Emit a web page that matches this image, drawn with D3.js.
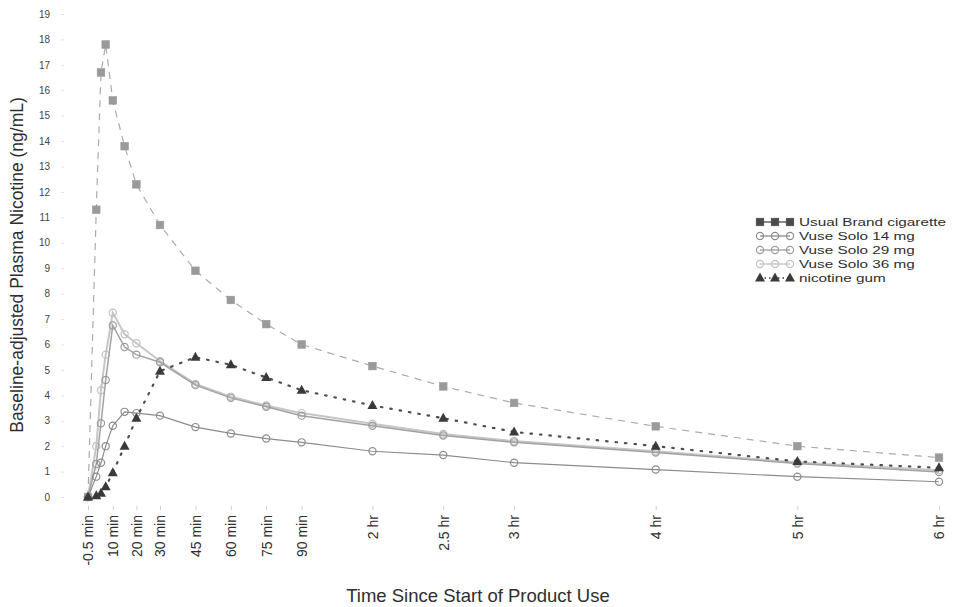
<!DOCTYPE html>
<meta charset="utf-8">
<script src="https://d3js.org/d3.v7.min.js"></script>
<style>
    body {
        margin: 0;
        background: #fff;
        font-family: "Liberation Sans", Arial, sans-serif;
    }
</style>
<div id="viz_area"></div>
<script>
    // sample times in minutes since start of product use
    var times = [-0.5, 3, 5, 7, 10, 15, 20, 30, 45, 60, 75, 90, 120, 150, 180, 240, 300, 360]
    var tickTimes = [-0.5, 10, 20, 30, 45, 60, 75, 90, 120, 150, 180, 240, 300, 360]
    var tickLabels = ["-0.5 min", "10 min", "20 min", "30 min", "45 min", "60 min", "75 min", "90 min",
        "2 hr", "2.5 hr", "3 hr", "4 hr", "5 hr", "6 hr"]
    var yTicks = d3.range(0, 20)

    var cigarette = [0, 11.3, 16.7, 17.8, 15.6, 13.8, 12.3, 10.7, 8.9, 7.75, 6.8, 6.0, 5.15, 4.35, 3.7, 2.78, 2.0, 1.55]
    var vuse14 = [0, 0.8, 1.35, 2.0, 2.8, 3.35, 3.3, 3.2, 2.75, 2.5, 2.3, 2.15, 1.8, 1.65, 1.35, 1.08, 0.8, 0.6]
    var vuse29 = [0, 1.3, 2.9, 4.6, 6.75, 5.9, 5.6, 5.3, 4.4, 3.9, 3.55, 3.2, 2.8, 2.42, 2.15, 1.75, 1.32, 0.98]
    var vuse36 = [0, 2.0, 4.2, 5.6, 7.25, 6.4, 6.05, 5.35, 4.45, 3.95, 3.6, 3.3, 2.88, 2.48, 2.2, 1.8, 1.36, 1.05]
    var gum = [0, 0.05, 0.15, 0.4, 0.95, 2.0, 3.1, 4.95, 5.5, 5.2, 4.7, 4.2, 3.6, 3.1, 2.56, 2.0, 1.4, 1.15]

    var seriesNames = ["Usual Brand cigarette", "Vuse Solo 14 mg", "Vuse Solo 29 mg", "Vuse Solo 36 mg", "nicotine gum"]

    var W = 954, H = 607

    var series = [
        {name: seriesNames[0], values: cigarette, line: "#ababab", width: 1.2, dash: "7,6", marker: "square", fill: "#9a9a9a", stroke: "#9a9a9a", legendFill: "#4a4a4a"},
        {name: seriesNames[1], values: vuse14, line: "#8c8c8c", width: 1.2, dash: null, marker: "circle", fill: "#fff", stroke: "#8c8c8c", legendFill: "#fff"},
        {name: seriesNames[2], values: vuse29, line: "#a2a2a2", width: 1.5, dash: null, marker: "circle", fill: "#fff", stroke: "#9c9c9c", legendFill: "#fff"},
        {name: seriesNames[3], values: vuse36, line: "#c6c6c6", width: 2, dash: null, marker: "circle", fill: "#fff", stroke: "#c2c2c2", legendFill: "#fff"},
        {name: seriesNames[4], values: gum, line: "#4e4e4e", width: 2.2, dash: "1.5,8", marker: "triangle", fill: "#3a3a3a", stroke: "#3a3a3a", legendFill: "#3a3a3a"}
    ]

    var svG = d3.select("#viz_area")
        .append("svg")
        .attr("width", W)
        .attr("height", H)

    svG.append("rect").attr("width", W).attr("height", H).attr("fill", "#fff")

    var x = d3.scaleLinear()
        .domain([-0.5, 360])
        .range([88, 939])

    var y = d3.scaleLinear()
        .domain([0, 19])
        .range([497, 14])

    // y axis: labels only, faint ticks
    var yAxis = svG.append("g")
        .attr("transform", "translate(64,0)")
        .call(d3.axisLeft(y).tickValues(yTicks).tickSize(3).tickPadding(11))
    yAxis.select(".domain").remove()
    yAxis.selectAll(".tick line").attr("stroke", "#e2e2e2")
    yAxis.selectAll(".tick text")
        .attr("font-size", "10px")
        .attr("fill", "#444")
        .attr("font-family", "Liberation Sans, Arial, sans-serif")

    // x axis with rotated labels
    var xAxis = svG.append("g")
        .attr("transform", "translate(0,506)")
        .call(d3.axisBottom(x).tickValues(tickTimes).tickSize(4)
            .tickFormat(function(d, i) {
                return tickLabels[i]
            }))
    xAxis.select(".domain").remove()
    xAxis.selectAll(".tick line").attr("stroke", "#cfcfcf")
    xAxis.selectAll(".tick text")
        .attr("font-size", "14px")
        .attr("fill", "#2e2e2e")
        .attr("font-family", "Liberation Sans, Arial, sans-serif")
        .attr("text-anchor", "end")
        .attr("transform", "rotate(-90)")
        .attr("x", -9)
        .attr("y", 0)
        .attr("dy", ".35em")

    svG.append("text")
        .attr("x", 478)
        .attr("y", 602)
        .attr("text-anchor", "middle")
        .attr("font-size", "18.5px")
        .attr("fill", "#2e2e2e")
        .text("Time Since Start of Product Use")

    svG.append("text")
        .attr("transform", "translate(23,265) rotate(-90)")
        .attr("text-anchor", "middle")
        .attr("font-size", "17.5px")
        .attr("fill", "#2e2e2e")
        .text("Baseline-adjusted Plasma Nicotine (ng/mL)")

    var line = d3.line()
        .x(function(d) { return x(d.t) })
        .y(function(d) { return y(d.v) })

    function drawMarker(g, type, cx, cy, fill, stroke) {
        if (type == "square") {
            g.append("rect")
                .attr("x", cx - 3.8).attr("y", cy - 3.8)
                .attr("width", 7.6).attr("height", 7.6)
                .attr("fill", fill).attr("stroke", stroke).attr("stroke-width", 0.6)
        } else if (type == "triangle") {
            g.append("path")
                .attr("d", "M" + cx + "," + (cy - 5.5) + "L" + (cx + 5) + "," + (cy + 3.5) + "L" + (cx - 5) + "," + (cy + 3.5) + "Z")
                .attr("fill", fill)
        } else {
            g.append("circle")
                .attr("cx", cx).attr("cy", cy).attr("r", 3.6)
                .attr("fill", "none").attr("stroke", stroke).attr("stroke-width", 1.2)
        }
    }

    // draw order: lighter series underneath
    var order = [0, 3, 2, 1, 4]
    order.forEach(function(k) {
        var s = series[k]
        var pts = times.map(function(t, i) { return {t: t, v: s.values[i]} })
        var g = svG.append("g").attr("class", "series")
        g.append("path")
            .datum(pts)
            .attr("d", line)
            .attr("fill", "none")
            .attr("stroke", s.line)
            .attr("stroke-width", s.width)
            .attr("stroke-linecap", s.marker == "triangle" ? "round" : "butt")
            .attr("stroke-dasharray", s.dash)
        pts.forEach(function(p) {
            drawMarker(g, s.marker, x(p.t), y(p.v), s.fill, s.stroke)
        })
    })

    // legend
    var legend = svG.selectAll(".legend")
        .data(series)
        .enter().append("g")
        .attr("class", "legend")
        .attr("transform", function(d, i) {
            return "translate(0," + (222 + i * 14) + ")"
        })

    legend.append("line")
        .attr("x1", 760).attr("x2", 790)
        .attr("y1", 0).attr("y2", 0)
        .attr("stroke", function(d) { return d.marker == "square" ? "#4a4a4a" : d.stroke })
        .attr("stroke-width", 1.3)
        .attr("stroke-dasharray", function(d) { return d.marker == "triangle" ? "1.5,3" : null })

    legend.each(function(d) {
        var g = d3.select(this)
        ;[760, 775, 790].forEach(function(cx) {
            drawMarker(g, d.marker, cx, 0, d.legendFill, d.marker == "square" ? "#4a4a4a" : d.stroke)
        })
    })

    // the scanned legend text is wider than it is tall
    legend.append("text")
        .attr("transform", "translate(799,0) scale(1.33,1)")
        .attr("dy", ".36em")
        .attr("font-size", "11.5px")
        .attr("fill", "#2e2e2e")
        .text(function(d) { return d.name })
</script>
